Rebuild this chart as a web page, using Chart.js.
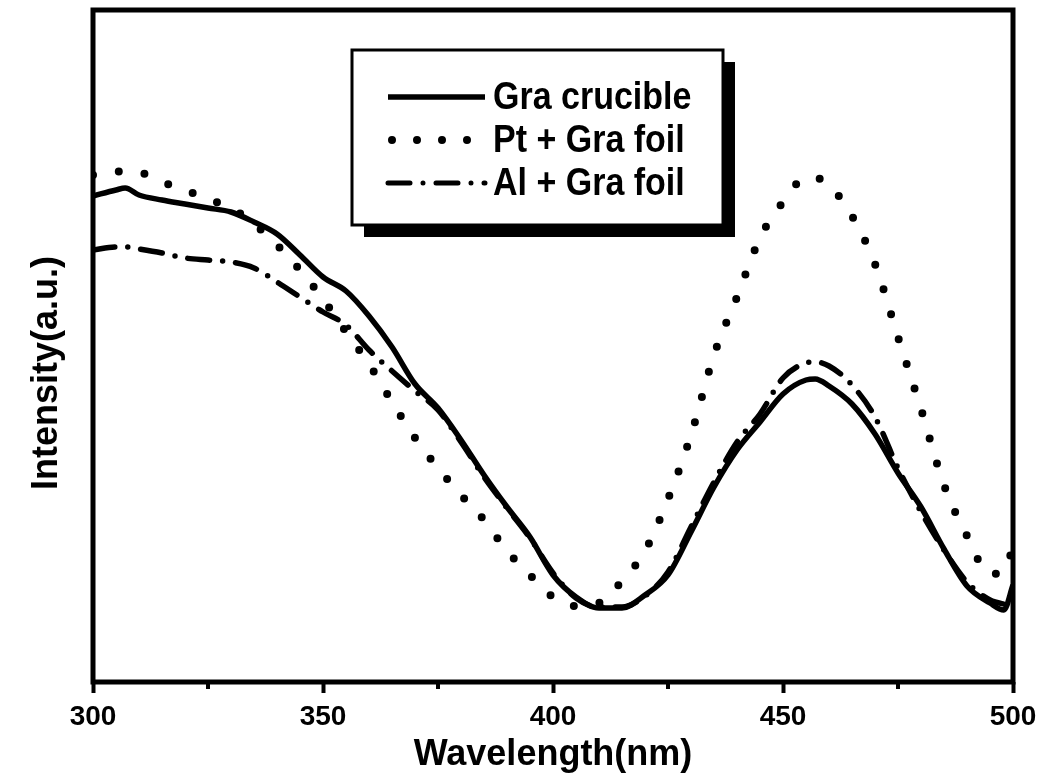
<!DOCTYPE html>
<html>
<head>
<meta charset="utf-8">
<title>Intensity vs Wavelength</title>
<script src="https://cdn.jsdelivr.net/npm/chart.js@4/dist/chart.umd.min.js"></script>
<style>
  html, body { margin: 0; padding: 0; background: #fff; }
  canvas { display: block; }
</style>
</head>
<body>
<canvas id="chart" width="1047" height="780"></canvas>
<script>
'use strict';

/* data (intensity in arbitrary units) */
const WAVELENGTHS = [300, 305, 307, 310, 315, 320, 325, 330, 335, 340, 345, 350, 355, 360, 365, 370, 375, 380, 385, 390,
                     395, 400, 405, 410, 415, 420, 425, 430, 435, 440, 445, 450, 455, 457, 460, 465, 470, 475, 480, 485,
                     490, 495, 498, 500];
const GRA_CRUCIBLE = [486, 492, 494, 487, 482, 478, 474, 470, 460, 448, 427, 405, 391, 366, 335, 298, 274, 242, 207, 175,
                      145, 107, 85, 74, 74, 87, 107, 150, 195, 232, 260, 288, 302, 303, 296, 278, 248, 209, 175, 133,
                      96, 79, 72, 97];
const PT_GRA_FOIL  = [507, 510, 511, 510, 500, 492, 483, 474, 458, 437, 412, 383, 350, 318, 280, 244, 214, 187, 162, 131,
                      107, 85, 76, 79, 101, 131, 183, 247, 327, 385, 444, 480, 504, 504, 497, 466, 418, 345, 273, 197,
                      146, 108, 110, 135];
const AL_GRA_FOIL  = [432, 435, 435, 433, 429, 424, 422, 420, 414, 400, 385, 370, 357, 332, 311, 291, 272, 240, 205, 174,
                      144, 109, 84, 75, 75, 86, 110, 155, 200, 240, 268, 304, 319, 320, 316, 297, 265, 214, 170, 132,
                      100, 82, 78, 77];
const SERIES_NAMES = ['Gra crucible', 'Pt + Gra foil', 'Al + Gra foil'];
const X_MAJOR = [300, 350, 400, 450, 500];
const X_MINOR = [325, 375, 425, 475];

const FONT = "'Liberation Sans', Arial, sans-serif";

function pts(ys) {
  return WAVELENGTHS.map((x, i) => ({ x: x, y: ys[i] }));
}

/* frame, minor ticks, boxed legend with shadow, y title */
const decor = {
  id: 'decor',
  afterDraw(chart) {
    const ctx = chart.ctx;
    const a = chart.chartArea;
    const xs = chart.scales.x;
    ctx.save();

    // plot frame
    ctx.strokeStyle = '#000';
    ctx.lineWidth = 5;
    ctx.strokeRect(a.left, a.top, a.right - a.left, a.bottom - a.top);

    // minor ticks
    ctx.lineWidth = 4;
    X_MINOR.forEach(v => {
      const px = xs.getPixelForValue(v);
      ctx.beginPath();
      ctx.moveTo(px, a.bottom);
      ctx.lineTo(px, a.bottom + 7);
      ctx.stroke();
    });

    // legend box
    const bx = 352, by = 50, bw = 371, bh = 175;
    ctx.fillStyle = '#000';
    ctx.fillRect(bx + 12, by + 12, bw, bh);
    ctx.fillStyle = '#fff';
    ctx.fillRect(bx, by, bw, bh);
    ctx.lineWidth = 3;
    ctx.strokeRect(bx, by, bw, bh);

    const rows = [97, 140, 183];
    const styles = [
      { w: 5.5, dash: [], cap: 'butt' },
      { w: 8, dash: [0, 25], cap: 'round' },
      { w: 5, dash: [22, 13, 0, 13], cap: 'round' }
    ];
    rows.forEach((ry, i) => {
      const s = styles[i];
      ctx.beginPath();
      ctx.setLineDash(s.dash);
      ctx.lineCap = s.cap;
      ctx.lineWidth = s.w;
      ctx.moveTo(i === 1 ? 392 : 388, ry);
      ctx.lineTo(485, ry);
      ctx.stroke();
    });
    ctx.setLineDash([]);
    ctx.fillStyle = '#000';
    ctx.font = 'bold 34px ' + FONT;
    ctx.textBaseline = 'middle';
    ctx.textAlign = 'left';
    rows.forEach((ry, i) => {
      ctx.save();
      ctx.translate(493, ry + 1);
      ctx.scale(1, 1.12);
      ctx.fillText(SERIES_NAMES[i], 0, 0);
      ctx.restore();
    });

    // y axis title
    ctx.translate(47, 373);
    ctx.rotate(-Math.PI / 2);
    ctx.textAlign = 'center';
    ctx.font = 'bold 36px ' + FONT;
    ctx.fillText('Intensity(a.u.)', 0, 0);
    ctx.restore();
  }
};

const common = { pointRadius: 0, borderColor: '#000', backgroundColor: '#000', cubicInterpolationMode: 'monotone', fill: false };

new Chart(document.getElementById('chart'), {
  type: 'line',
  data: {
    datasets: [
      Object.assign({ label: SERIES_NAMES[0], data: pts(GRA_CRUCIBLE), borderWidth: 5.5 }, common),
      Object.assign({ label: SERIES_NAMES[1], data: pts(PT_GRA_FOIL), borderWidth: 8, borderDash: [0, 26], borderCapStyle: 'round' }, common),
      Object.assign({ label: SERIES_NAMES[2], data: pts(AL_GRA_FOIL), borderWidth: 5.5, borderDash: [22, 13, 0, 13], borderCapStyle: 'round' }, common)
    ]
  },
  options: {
    responsive: false,
    animation: false,
    layout: { padding: { top: 10, right: 34, left: 0, bottom: 0 } },
    plugins: { legend: { display: false }, tooltip: { enabled: false } },
    scales: {
      x: {
        type: 'linear',
        min: 300,
        max: 500,
        afterFit: s => { s.height = 98; },
        afterBuildTicks: s => { s.ticks = X_MAJOR.map(v => ({ value: v })); },
        border: { display: false },
        grid: { drawOnChartArea: false, drawTicks: true, tickLength: 11, tickWidth: 4, tickColor: '#000' },
        ticks: { color: '#000', padding: 7, maxRotation: 0, font: { family: FONT, size: 28, weight: 'bold' } },
        title: { display: true, text: 'Wavelength(nm)', color: '#000', padding: { top: 0, bottom: 3 },
                 font: { family: FONT, size: 36, weight: 'bold' } }
      },
      y: {
        min: 0,
        max: 672,
        afterFit: s => { s.width = 93; },
        border: { display: false },
        grid: { display: false },
        ticks: { display: false }
      }
    }
  },
  plugins: [decor]
});
</script>
</body>
</html>
